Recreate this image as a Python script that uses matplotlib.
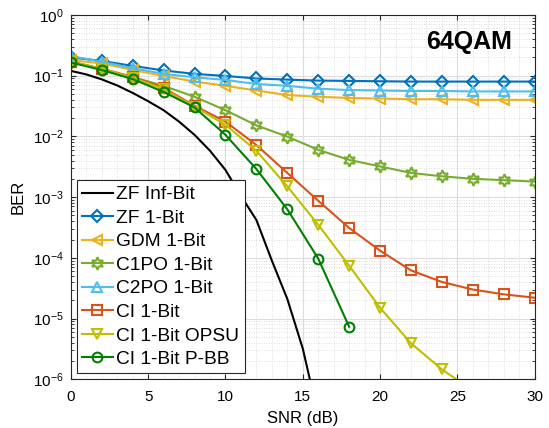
import numpy as np
import matplotlib.pyplot as plt
from matplotlib.ticker import LogLocator, NullFormatter, MultipleLocator

plt.rcParams['font.family'] = ['Liberation Sans', 'DejaVu Sans']
plt.rcParams['mathtext.fontset'] = 'custom'
plt.rcParams['mathtext.rm'] = 'Liberation Sans'

# SNR grids
snr_fine = np.arange(0, 17)
snr = np.arange(0, 31, 2)

# BER curves
ber_zf_inf = [0.12, 0.105, 0.087, 0.069, 0.052, 0.038, 0.027, 0.0175, 0.0106,
              0.0058, 0.0028, 0.00105, 4.2e-4, 9e-5, 2.1e-5, 3.2e-6, 2.5e-7]
ber_zf_1bit = [0.2, 0.175, 0.145, 0.122, 0.107, 0.099, 0.09, 0.086,
               0.083, 0.082, 0.081, 0.08, 0.08, 0.08, 0.08, 0.08]
ber_gdm = [0.18, 0.16, 0.124, 0.099, 0.08, 0.068, 0.057, 0.048,
           0.045, 0.043, 0.042, 0.041, 0.041, 0.04, 0.04, 0.04]
ber_c1po = [0.17, 0.13, 0.095, 0.068, 0.045, 0.027, 0.0152, 0.0099,
            0.006, 0.0041, 0.0032, 0.0025, 0.0022, 0.002, 0.0019, 0.0018]
ber_c2po = [0.21, 0.17, 0.133, 0.107, 0.094, 0.085, 0.073, 0.068,
            0.061, 0.058, 0.057, 0.056, 0.056, 0.055, 0.055, 0.055]
ber_ci = [0.17, 0.13, 0.095, 0.063, 0.032, 0.0175, 0.0072, 0.0025,
          8.7e-4, 3.1e-4, 1.31e-4, 6.2e-5, 4.0e-5, 3.0e-5, 2.5e-5, 2.2e-5]
ber_ci_opsu = [0.17, 0.13, 0.093, 0.06, 0.031, 0.0155, 0.0058, 0.0015,
               3.5e-4, 7.4e-5, 1.5e-5, 3.9e-6, 1.45e-6, 6.5e-7]
ber_ci_pbb = [0.165, 0.124, 0.088, 0.054, 0.030, 0.0106, 0.0029, 6.3e-4,
              9.7e-5, 7.3e-6]

hexagram = (6, 1, 0)
series = [
    (snr, ber_zf_1bit, 'ZF 1-Bit', '#0072BD', 'D'),
    (snr, ber_gdm, 'GDM 1-Bit', '#EDB120', '<'),
    (snr, ber_c1po, 'C1PO 1-Bit', '#77AC30', hexagram),
    (snr, ber_c2po, 'C2PO 1-Bit', '#4DBEEE', '^'),
    (snr, ber_ci, 'CI 1-Bit', '#D95319', 's'),
    (snr[:len(ber_ci_opsu)], ber_ci_opsu, 'CI 1-Bit OPSU', '#BFBF00', 'v'),
    (snr[:len(ber_ci_pbb)], ber_ci_pbb, 'CI 1-Bit P-BB', '#008000', 'o'),
]
sizes = {'D': 6.5, hexagram: 9}

fig = plt.figure(figsize=(5.49, 4.28), dpi=100)
ax = fig.add_axes([0.129, 0.114, 0.845, 0.851])

ax.plot(snr_fine, ber_zf_inf, color='black', lw=1.5, label='ZF Inf-Bit')
for x, y, label, color, marker in series:
    ax.plot(x, y, color=color, marker=marker, markersize=sizes.get(marker, 7),
            markerfacecolor='none', markeredgewidth=1.5, lw=1.5, label=label)

ax.set_yscale('log')
ax.set_xlim(0, 30)
ax.set_ylim(1e-6, 1)
ax.xaxis.set_major_locator(MultipleLocator(5))
ax.xaxis.set_minor_locator(MultipleLocator(1))
ax.yaxis.set_major_locator(LogLocator(base=10, numticks=10))
ax.yaxis.set_minor_locator(LogLocator(base=10, subs=np.arange(2, 10), numticks=20))
ax.yaxis.set_minor_formatter(NullFormatter())
ax.xaxis.get_offset_text().set_visible(False)
ax.yaxis.get_offset_text().set_visible(False)

ax.grid(True, which='major', color='#dcdcdc', lw=0.8)
ax.grid(True, which='minor', color='#d0d0d0', lw=0.6, linestyle=(0, (1, 2)))
ax.tick_params(which='both', direction='in', top=True, right=True, labelsize=11, color='#262626')
ax.tick_params(axis='x', which='both', pad=8)
ax.tick_params(axis='y', which='both', pad=5)
ax.tick_params(axis='x', which='minor', length=0)
for s in ax.spines.values():
    s.set_color('#262626')

ax.set_xlabel('SNR (dB)', fontsize=12, labelpad=5)
ax.set_ylabel('BER', fontsize=12, labelpad=5)
ax.text(0.95, 0.926, '64QAM', transform=ax.transAxes, ha='right', va='center',
        fontsize=18, fontweight='bold')

leg = ax.legend(loc='lower left', fontsize=13.8, frameon=True, fancybox=False,
                edgecolor='#262626', framealpha=1, borderaxespad=0.3,
                handlelength=1.6, handletextpad=0.2, labelspacing=0.32, borderpad=0.28)
leg.get_frame().set_linewidth(0.8)

fig.savefig('out.png', dpi=100)
